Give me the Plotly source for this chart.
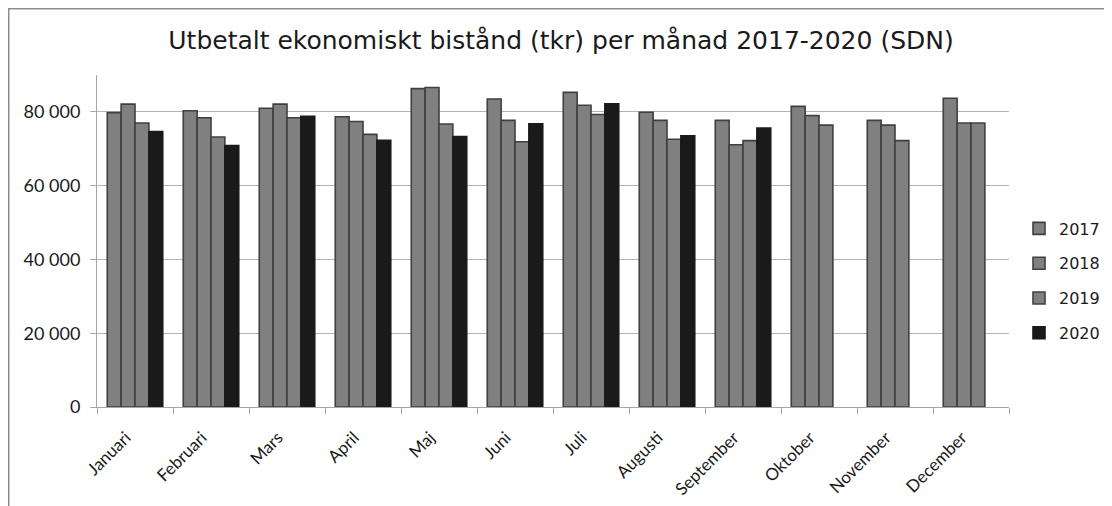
import plotly.graph_objects as go

months = ["Januari", "Februari", "Mars", "April", "Maj", "Juni", "Juli",
          "Augusti", "September", "Oktober", "November", "December"]
years = ["2017", "2018", "2019", "2020"]

v2017 = [79800, 80300, 81000, 78700, 86300, 83500, 85300, 79900, 77700, 81500, 77700, 83700]
v2018 = [82100, 78400, 82100, 77400, 86600, 77700, 81800, 77700, 71100, 79000, 76400, 77000]
v2019 = [77000, 73200, 78400, 73900, 76700, 71900, 79300, 72600, 72200, 76400, 72200, 77000]
v2020 = [74700, 70900, 78800, 72300, 73300, 76800, 82200, 73500, 75600, None, None, None]

series = [v2017, v2018, v2019, v2020]
colors = ["#808080", "#808080", "#808080", "#1a1a1a"]
edges = ["#404040", "#404040", "#404040", "#1a1a1a"]

fig = go.Figure()
for i, (name, vals) in enumerate(zip(years, series)):
    fig.add_trace(go.Bar(
        x=months, y=vals, name=name, legendgroup=name,
        marker=dict(color=colors[i], line=dict(color=edges[i], width=1.6)),
    ))

# page body has an 8px margin, so the figure is offset by 8px
W, H = 1104, 498
L, R, T, B = 89, 103, 67, 99
pw, ph = W - L - R, H - T - B

fig.update_layout(
    width=W, height=H,
    margin=dict(l=L, r=R, t=T, b=B, autoexpand=False),
    paper_bgcolor="white", plot_bgcolor="white",
    barmode="group", bargap=0.27, bargroupgap=0,
    separators=", ",
    title=dict(text="Utbetalt ekonomiskt bistånd (tkr) per månad 2017-2020 (SDN)",
               x=553 / W, xanchor="center", y=1 - 32 / H, yanchor="middle",
               font=dict(family="DejaVu Sans", size=25, color="#1a1a1a")),
    font=dict(family="DejaVu Sans", color="#1a1a1a"),
    legend=dict(x=(1011 - L) / pw, xanchor="left", y=(399 - 273) / ph, yanchor="middle",
                font=dict(family="DejaVu Sans", size=16, color="#1a1a1a"),
                traceorder="grouped", tracegroupgap=11, itemwidth=30,
                bgcolor="rgba(0,0,0,0)"),
    showlegend=True,
)
fig.update_xaxes(
    type="category", showline=True, linecolor="#a6a6a6", linewidth=1,
    ticks="outside", tickson="boundaries", ticklen=6, tickcolor="#a6a6a6",
    tickangle=-45, tickfont=dict(family="Lato", size=17, color="#1a1a1a"),
    ticklabelstandoff=13, ticklabelshift=-9,
    showgrid=False,
)
fig.update_yaxes(
    range=[0, 90000], tickvals=[0, 20000, 40000, 60000, 80000], tickformat=",d",
    showline=True, linecolor="#a6a6a6", linewidth=1,
    ticks="outside", ticklen=6, tickcolor="#a6a6a6",
    showgrid=True, gridcolor="#b3b3b3", gridwidth=1,
    tickfont=dict(family="Lato", size=18, color="#1a1a1a"), zeroline=False,
    ticklabelstandoff=6,
)

# outer chart border (only top and left edges fall inside the view)
fig.add_shape(type="rect", xref="paper", yref="paper",
              x0=(0.75 - L) / pw, x1=1.5, y0=-1.0, y1=(H - B - 0.75) / ph,
              line=dict(color="#8c8c8c", width=1.5), fillcolor="rgba(0,0,0,0)", layer="below")

fig.write_html("out.html")
